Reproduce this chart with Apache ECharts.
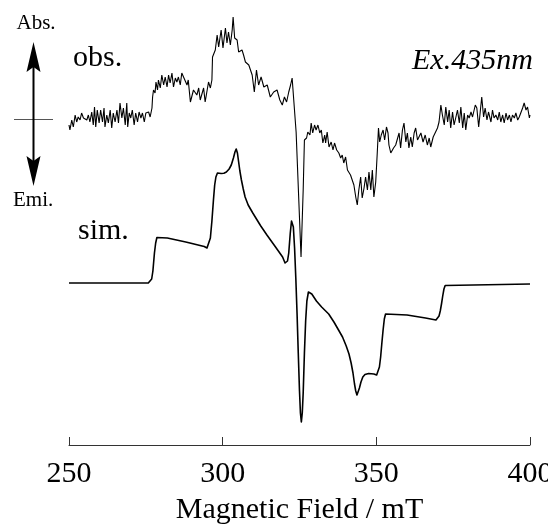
<!DOCTYPE html>
<html><head><meta charset="utf-8">
<script src="https://cdn.jsdelivr.net/npm/echarts@6/dist/echarts.min.js"></script>
<style>html,body{margin:0;padding:0;background:#fff}#c{width:548px;height:526px}</style>
</head><body><div id="c"></div>
<script>
// ---- data (field in mT, intensity in arbitrary units relative to each trace's baseline) ----
const xTicks = [250, 300, 350, 400];
const xTitle = 'Magnetic Field / mT';
const obsLabel = 'obs.';
const simLabel = 'sim.';
const excLabel = 'Ex.435nm';
const absLabel = 'Abs.';
const emiLabel = 'Emi.';

const obsData = [
[250.0,-5],[250.3,-10],[250.9,0],[251.4,-7],[252.0,5],[252.5,-2],[253.0,3],[253.6,0],[254.1,7],[254.7,2],[255.2,3],[255.8,0],[256.3,5],[256.8,-2],[257.4,8],[257.9,-5],[258.3,13],[258.7,-7],[259.2,10],[259.8,-3],[260.3,10],[260.9,-2],[261.4,12],[261.7,-7],[262.3,5],[262.8,-3],[263.4,10],[263.9,-8],[264.4,7],[265.0,-2],[265.6,10],[266.1,-3],[266.6,17],[267.2,2],[267.7,12],[268.3,-5],[268.8,17],[269.1,-7],[269.6,7],[270.1,2],[270.6,10],[271.2,-5],[271.7,7],[272.3,-2],[272.8,8],[273.4,2],[273.9,7],[274.5,-2],[275.0,7],[275.3,5],[275.9,8],[276.4,3],[277.0,12],[277.2,23],[277.5,30],[278.0,27],[278.3,38],[278.8,30],[279.1,40],[279.7,32],[280.2,45],[280.8,35],[281.3,43],[281.9,33],[282.4,45],[282.9,37],[283.5,47],[284.0,33],[284.6,42],[285.1,38],[285.6,43],[286.2,35],[286.7,47],[287.2,45],[288.4,35],[288.8,40],[289.5,18],[290.5,30],[291.6,25],[292.2,32],[292.7,20],[293.8,32],[294.3,18],[295.4,38],[296.0,32],[296.5,40],[296.7,63],[297.6,70],[298.2,85],[298.7,73],[299.5,90],[300.1,72],[300.9,92],[301.4,77],[301.9,88],[302.5,75],[303.1,90],[303.4,103],[303.9,82],[304.7,80],[305.2,68],[306.3,70],[306.8,65],[307.4,58],[308.5,55],[309.6,45],[310.3,28],[311.0,50],[311.7,35],[312.5,43],[313.4,33],[314.5,35],[315.5,23],[316.6,28],[317.7,30],[318.6,20],[319.4,15],[320.1,23],[320.8,18],[321.5,28],[322.1,35],[322.6,42],[322.8,43],[323.9,-12],[325.5,-137],[326.2,-70],[326.6,-20],[327.3,-18],[327.7,-12],[328.4,-15],[328.8,-3],[329.3,-13],[329.9,-5],[330.4,-10],[331.0,-5],[331.6,-13],[332.1,-10],[332.6,-23],[333.2,-15],[333.5,-23],[334.0,-12],[334.6,-27],[335.3,-22],[335.9,-30],[336.4,-23],[337.1,-30],[337.8,-33],[338.4,-38],[338.9,-35],[339.4,-43],[340.0,-37],[340.6,-50],[341.1,-48],[341.6,-55],[342.2,-57],[342.7,-65],[343.3,-77],[343.8,-85],[344.3,-70],[344.9,-57],[345.4,-78],[346.0,-68],[346.5,-57],[347.1,-70],[347.6,-52],[348.2,-70],[348.7,-50],[349.2,-77],[349.8,-62],[350.3,-33],[350.7,-8],[351.1,-22],[351.6,-15],[352.2,-10],[352.7,-20],[353.3,-7],[353.8,-13],[354.1,-25],[354.7,-33],[355.6,-28],[356.3,-25],[356.8,-27],[357.4,-13],[357.9,-28],[358.5,-10],[359.0,-3],[359.6,-22],[360.1,-13],[360.6,-28],[361.2,-17],[361.7,-27],[362.3,-13],[362.8,-8],[363.4,-20],[363.7,-18],[364.5,-13],[365.2,-22],[365.9,-15],[366.6,-25],[367.2,-18],[367.7,-27],[368.5,-17],[369.1,-18],[369.9,-8],[370.4,-2],[371.0,15],[371.5,5],[372.1,-5],[372.6,13],[373.2,-2],[373.7,10],[374.2,-8],[374.8,8],[375.3,-5],[375.9,3],[376.4,10],[377.0,-3],[377.5,13],[378.1,-8],[378.6,7],[379.1,-10],[379.7,5],[380.2,2],[380.8,8],[381.3,3],[382.2,15],[382.7,12],[383.3,-7],[383.8,8],[384.3,23],[384.9,3],[385.4,12],[386.0,0],[386.5,8],[387.3,-2],[387.8,10],[388.3,2],[388.9,5],[389.5,0],[390.0,8],[390.5,-2],[391.1,5],[391.6,-3],[392.2,7],[392.7,0],[393.3,5],[393.8,-2],[394.3,5],[394.9,2],[395.4,7],[396.0,0],[396.5,3],[397.1,2],[397.6,12],[398.1,17],[398.7,10],[399.2,13],[399.8,2],[400.0,5]
];

const simData = [
[250,0],[275.8,0],[276.4,1],[276.9,4],[277.3,12],[277.8,30],[278.2,40],[278.6,45.5],[279.2,47],[282,45],[288,41],[294,36.5],[294.9,35],[295.5,37],[296,45],[296.5,62],[297,83],[297.4,98],[297.8,106],[298.3,110],[298.9,110.5],[299.5,109.5],[300.4,109.8],[301.2,111],[302.1,114],[302.8,118],[303.5,125],[304.0,131],[304.4,134],[304.8,130],[305.2,121],[305.6,112],[306.1,103],[306.7,94],[307.3,86],[308.3,78],[309.8,70],[311.2,63],[312.4,57],[314.4,48],[317.2,36],[319.5,26],[320.3,20],[320.7,19],[321.1,22],[321.5,30],[322,50],[322.4,62],[322.7,64],[323.0,56],[323.4,35],[323.8,5],[324.2,-30],[324.6,-70],[325.0,-108],[325.3,-130],[325.6,-139],[325.9,-130],[326.2,-110],[326.6,-70],[327.0,-38],[327.4,-18],[327.9,-9],[328.3,-8],[329.0,-11],[330.5,-18],[332.2,-24],[334.5,-31],[336.2,-39],[337.7,-47],[339.0,-54],[340.2,-63],[341.1,-71],[341.8,-80],[342.4,-90],[342.9,-101],[343.3,-108],[343.7,-112],[344.1,-110],[344.5,-105],[345.0,-99],[345.6,-94],[346.3,-91.5],[347.5,-90.5],[349.2,-91],[350.1,-92],[350.6,-90],[351.0,-84],[351.4,-74],[351.8,-60],[352.2,-47],[352.6,-36],[353.0,-31],[353.5,-29],[360,-32],[366,-35],[369.4,-37],[369.9,-36],[370.4,-33],[370.8,-28],[371.2,-21],[371.6,-13],[372.0,-6],[372.4,-2.5],[372.9,-1],[400,-1]
];

// vertical placement of each trace on the hidden intensity axis
const OBS_BASE = 325;
const SIM_BASE = 162;

const FONT = '"Liberation Serif", "Times New Roman", serif';
const shift = (arr, b) => arr.map(p => [p[0], p[1] + b]);

const chart = echarts.init(document.getElementById('c'), null, {renderer: 'canvas'});
chart.setOption({
  animation: false,
  backgroundColor: '#fff',
  grid: {left: 69, right: 18, top: 10, bottom: 81, containLabel: false, outerBoundsMode: 'none'},
  xAxis: {
    type: 'value', min: xTicks[0], max: xTicks[xTicks.length - 1], interval: 50,
    name: xTitle, nameLocation: 'middle', nameGap: 50,
    nameTextStyle: {fontFamily: FONT, fontSize: 30, color: '#000'},
    axisLine: {lineStyle: {color: '#333', width: 1}},
    axisTick: {inside: true, length: 8, lineStyle: {color: '#333'}},
    axisLabel: {fontFamily: FONT, fontSize: 30, color: '#000', margin: 14, showMaxLabel: true, showMinLabel: true, hideOverlap: false},
    splitLine: {show: false}
  },
  yAxis: {type: 'value', min: 0, max: 435, show: false},
  series: [
    {type: 'line', data: shift(obsData, OBS_BASE), showSymbol: false,
     lineStyle: {color: '#000', width: 1.1}, z: 3},
    {type: 'line', data: shift(simData, SIM_BASE), showSymbol: false,
     lineStyle: {color: '#000', width: 1.6, join: 'round'}, z: 2}
  ],
  graphic: [
    {type: 'line', shape: {x1: 14, y1: 119.5, x2: 53, y2: 119.5}, style: {stroke: '#555', lineWidth: 1}},
    {type: 'line', shape: {x1: 33.5, y1: 66, x2: 33.5, y2: 162}, style: {stroke: '#000', lineWidth: 2}},
    {type: 'polygon', shape: {points: [[33.5, 42], [40.5, 72], [33.5, 67], [26.5, 72]]}, style: {fill: '#000'}},
    {type: 'polygon', shape: {points: [[33.5, 186], [40.5, 156], [33.5, 161], [26.5, 156]]}, style: {fill: '#000'}},
    {type: 'text', x: 16.5, y: 23, style: {text: absLabel, font: '21px ' + FONT, fill: '#000', textAlign: 'left', textVerticalAlign: 'middle'}},
    {type: 'text', x: 13, y: 200, style: {text: emiLabel, font: '21px ' + FONT, fill: '#000', textAlign: 'left', textVerticalAlign: 'middle'}},
    {type: 'text', x: 73, y: 58, style: {text: obsLabel, font: '30px ' + FONT, fill: '#000', textAlign: 'left', textVerticalAlign: 'middle'}},
    {type: 'text', x: 78, y: 231, style: {text: simLabel, font: '30px ' + FONT, fill: '#000', textAlign: 'left', textVerticalAlign: 'middle'}},
    {type: 'text', x: 412, y: 61, style: {text: excLabel, font: 'italic 30px ' + FONT, fill: '#000', textAlign: 'left', textVerticalAlign: 'middle'}}
  ]
});
</script>
</body></html>
